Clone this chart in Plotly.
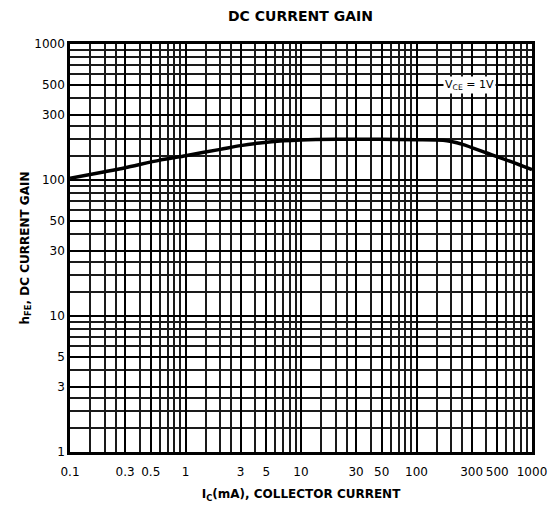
import plotly.graph_objects as go

# Data
ic_ma = [0.1, 0.2, 0.3, 0.6, 1.0, 2.0, 3.0, 4.4, 7.0, 10, 20, 50, 100, 170, 200, 250, 407, 650, 1000]
hfe = [103, 115, 123, 140, 151, 168, 179, 187, 194, 197, 199, 199, 198, 196, 192, 183, 158, 137, 119]

x_ticks = [0.1, 0.3, 0.5, 1, 3, 5, 10, 30, 50, 100, 300, 500, 1000]
x_tick_text = ["0.1", "0.3", "0.5", "1", "3", "5", "10", "30", "50", "100", "300", "500", "1000"]
y_ticks = [1, 3, 5, 10, 30, 50, 100, 300, 500, 1000]
y_tick_text = ["1", "3", "5", "10", "30", "50", "100", "300", "500", "1000"]

mults = [1, 1.5, 2, 2.5, 3, 4, 5, 6, 7, 8, 9]
x_minor = [m * 10 ** d for d in (-1, 0, 1, 2) for m in mults]
y_minor = [m * 10 ** d for d in (0, 1, 2) for m in mults]

font = "DejaVu Sans, Liberation Sans, sans-serif"

fig = go.Figure()
fig.add_trace(go.Scatter(x=ic_ma, y=hfe, mode="lines",
                         line=dict(color="black", width=3.5, shape="spline", smoothing=0.8),
                         showlegend=False, hoverinfo="skip"))

fig.add_annotation(x=2.46, y=2.699, xref="x", yref="y", text="V<sub>CE</sub> = 1V", showarrow=False,
                   bgcolor="white", font=dict(family=font, size=11, color="black"))

fig.add_annotation(x=0.498, y=1, xref="paper", yref="paper", yshift=28, yanchor="middle",
                   text="<b>DC CURRENT GAIN</b>", showarrow=False,
                   font=dict(family=font, size=14, color="black"))

axis_common = dict(
    type="log", showline=True, linecolor="black", linewidth=2.5, mirror=True,
    showgrid=True, gridcolor="black", gridwidth=2, zeroline=False,
    tickfont=dict(family=font, size=12, color="black"),
)

# The page adds an 8 px body margin, so the figure is sized to the remaining area.
fig.update_layout(
    width=550, height=502,
    margin=dict(l=62, r=26, t=36, b=58, autoexpand=False),
    paper_bgcolor="white", plot_bgcolor="white",
    xaxis=dict(**axis_common, range=[-1, 3], tickmode="array", tickvals=x_ticks, ticktext=x_tick_text,
               ticks="outside", ticklen=7, tickcolor="rgba(0,0,0,0)",
               minor=dict(tickmode="array", tickvals=x_minor, showgrid=True, gridcolor="#1a1a1a", gridwidth=1.5, ticks=""),
               title=dict(text="<b>I<sub>C</sub>(mA), COLLECTOR CURRENT</b>", standoff=12,
                          font=dict(family=font, size=12, color="black"))),
    yaxis=dict(**axis_common, range=[0, 3], tickmode="array", tickvals=y_ticks, ticktext=y_tick_text,
               ticks="",
               minor=dict(tickmode="array", tickvals=y_minor, showgrid=True, gridcolor="#1a1a1a", gridwidth=1.5, ticks=""),
               title=dict(text="<b>h<sub>FE</sub>, DC CURRENT GAIN</b>", standoff=3,
                          font=dict(family=font, size=12, color="black"))),
)

fig.write_html("out.html")
